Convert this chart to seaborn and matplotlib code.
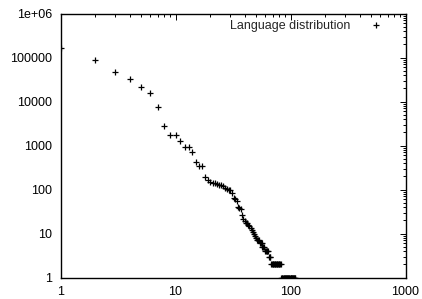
import numpy as np
import pandas as pd
import seaborn as sns
import matplotlib
matplotlib.use("Agg")
import matplotlib.pyplot as plt
from matplotlib.ticker import FixedLocator, FixedFormatter, LogLocator, NullFormatter

# rank-frequency data
counts_head = [165000, 90000, 48000, 32000, 21000, 16000, 7500, 2750, 1750, 1700,
               1250, 920, 920, 720, 415, 340, 335, 193, 165, 150,
               143, 140, 135, 128, 125, 118, 110, 103, 98, 95,
               85, 65, 60, 55, 39, 37, 36, 26, 21, 19,
               17, 17, 16, 15, 13, 12, 11, 10, 9, 8,
               7, 7, 7, 6, 6, 6, 5, 5, 5, 4,
               4, 4, 4, 4, 3, 3, 3]
counts_two = [2] * 15      # ranks 68..82
counts_one = [1] * 28      # ranks 83..110
counts = counts_head + counts_two + counts_one
ranks = list(range(1, len(counts) + 1))

x_ticks = [1, 10, 100, 1000]
x_labels = ["1", "10", "100", "1000"]
y_ticks = [1, 10, 100, 1000, 10000, 100000, 1000000]
y_labels = ["1", "10", "100", "1000", "10000", "100000", "1e+06"]

df = pd.DataFrame({"rank": ranks, "count": counts})

sns.set_style("white")
plt.rcParams["font.family"] = ["Liberation Sans", "DejaVu Sans"]

fig = plt.figure(figsize=(4.22, 2.99), dpi=100)
ax = fig.add_axes([60.5 / 422, 1 - 277.5 / 299, (405.5 - 60.5) / 422, (277.5 - 13.5) / 299])

sns.scatterplot(data=df, x="rank", y="count", marker="+", color="black",
                s=13, linewidth=0.9, ax=ax, label="Language distribution", legend=True)

ax.set_xscale("log")
ax.set_yscale("log")
ax.set_xlim(1, 1000)
ax.set_ylim(1, 1e6)
ax.xaxis.set_major_locator(FixedLocator(x_ticks))
ax.xaxis.set_major_formatter(FixedFormatter(x_labels))
ax.yaxis.set_major_locator(FixedLocator(y_ticks))
ax.yaxis.set_major_formatter(FixedFormatter(y_labels))
ax.xaxis.set_minor_locator(LogLocator(base=10, subs=np.arange(2, 10)))
ax.yaxis.set_minor_locator(LogLocator(base=10, subs=np.arange(2, 10)))
ax.xaxis.set_minor_formatter(NullFormatter())
ax.yaxis.set_minor_formatter(NullFormatter())
ax.set_xlabel("")
ax.set_ylabel("")

for sp in ax.spines.values():
    sp.set_linewidth(1.0)
    sp.set_color("black")

ax.tick_params(which="both", direction="in", top=True, right=True,
               labelsize=9, colors="black", width=0.7)
ax.tick_params(which="major", length=4.5, pad=6)
ax.tick_params(which="minor", length=2.5)

leg = ax.legend(loc="upper right", frameon=False, markerfirst=False,
                fontsize=9, handletextpad=1.0, borderaxespad=0.3,
                bbox_to_anchor=(0.975, 1.01))

fig.savefig("out.png", dpi=100)
